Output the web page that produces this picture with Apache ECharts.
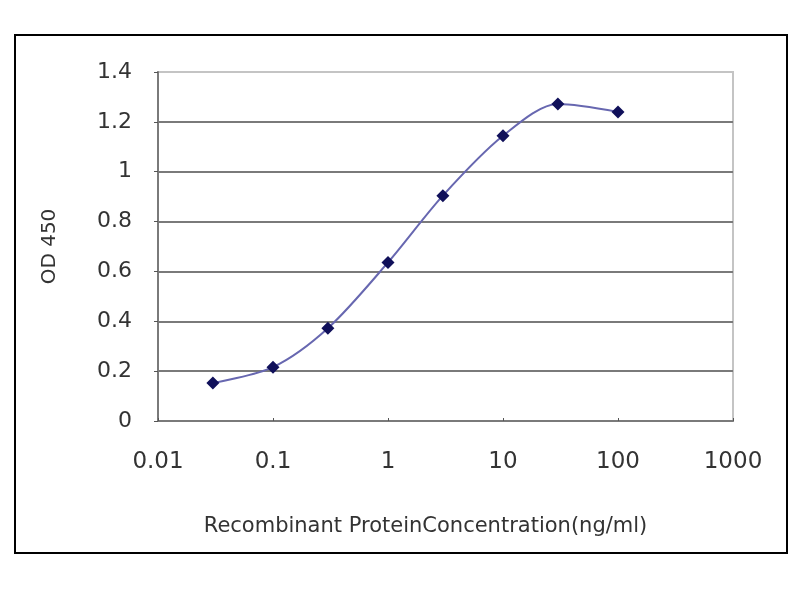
<!DOCTYPE html>
<html>
<head>
<meta charset="utf-8">
<script src="https://cdn.jsdelivr.net/npm/echarts@6/dist/echarts.min.js"></script>
<style>
  html, body { margin: 0; padding: 0; background: #fff; }
  #chart { width: 800px; height: 600px; }
</style>
</head>
<body>
<div id="chart"></div>
<script>
// concentration (ng/ml) and OD450
const concentration = [0.03, 0.1, 0.3, 1, 3, 10, 30, 100];
const od450 = [0.152, 0.216, 0.372, 0.636, 0.904, 1.144, 1.272, 1.24];
const xTickLabels = ['0.01', '0.1', '1', '10', '100', '1000'];
const yTickLabels = ['0', '0.2', '0.4', '0.6', '0.8', '1', '1.2', '1.4'];

const chart = echarts.init(document.getElementById('chart'));

const font = 'DejaVu Sans';

const option = {
  animation: false,
  backgroundColor: '#fff',
  graphic: [{
    type: 'rect',
    shape: { x: 15, y: 35, width: 772, height: 518 },
    style: { fill: 'none', stroke: '#000', lineWidth: 2 },
    z: 0
  }],
  grid: {
    left: 158, right: 67, top: 72, bottom: 179,
    show: true,
    borderColor: '#c4c4c4',
    borderWidth: 2
  },
  xAxis: {
    type: 'log',
    logBase: 10,
    min: 0.01,
    max: 1000,
    name: 'Recombinant ProteinConcentration(ng/ml)',
    nameLocation: 'middle',
    nameGap: 95,
    nameTextStyle: { fontFamily: font, fontSize: 21, color: '#333', padding: [0, 40, 0, 0] },
    axisLine: { lineStyle: { color: '#7a7a7a', width: 2 } },
    axisTick: { show: true, inside: true, length: 3, lineStyle: { color: '#555' } },
    splitLine: { show: false },
    axisLabel: {
      margin: 30,
      fontFamily: font,
      fontSize: 23,
      color: '#333',
      formatter: function (v) {
        const i = Math.round(Math.log10(v)) + 2;
        return xTickLabels[i] !== undefined ? xTickLabels[i] : '';
      }
    }
  },
  yAxis: {
    type: 'value',
    min: 0,
    max: 1.4,
    interval: 0.2,
    name: 'OD 450',
    nameLocation: 'middle',
    nameGap: 98,
    nameTextStyle: { fontFamily: font, fontSize: 20, color: '#333' },
    axisLine: { show: true, lineStyle: { color: '#7a7a7a', width: 2 } },
    axisTick: { show: true, length: 4, lineStyle: { color: '#555' } },
    splitLine: {
      show: true,
      lineStyle: {
        color: ['#7a7a7a', '#7a7a7a', '#7a7a7a', '#7a7a7a', '#7a7a7a', '#7a7a7a', '#7a7a7a', '#c4c4c4'],
        width: 2
      }
    },
    axisLabel: {
      margin: 26,
      fontFamily: font,
      fontSize: 22,
      color: '#333',
      formatter: function (v) {
        const i = Math.round(v / 0.2);
        return yTickLabels[i];
      }
    }
  },
  series: [{
    type: 'line',
    data: concentration.map((c, i) => [c, od450[i]]),
    smooth: 0.3,
    symbol: 'diamond',
    symbolSize: 13,
    itemStyle: { color: '#10105a' },
    lineStyle: { color: '#6767b0', width: 2 }
  }]
};

chart.setOption(option);
</script>
</body>
</html>
